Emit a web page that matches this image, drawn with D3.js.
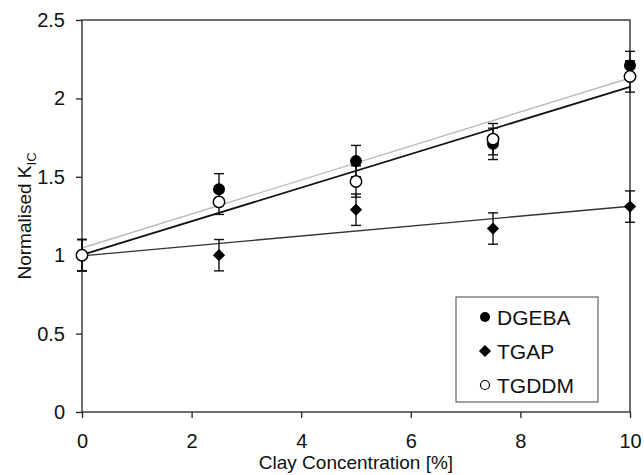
<!DOCTYPE html>
<html>
<head>
<meta charset="utf-8">
<script src="https://cdn.jsdelivr.net/npm/d3@7"></script>
<style>
  body { margin: 0; background: #fff; }
  svg { display: block; font-family: "Liberation Sans", Arial, sans-serif; }
</style>
</head>
<body>
<div id="chart"></div>
<script>
const clay = [0, 2.5, 5, 7.5, 10]
const dgeba = [1.0, 1.42, 1.60, 1.71, 2.21]
const dgebaErr = [0.1, 0.1, 0.1, 0.1, 0.09]
const tgap = [1.0, 1.0, 1.29, 1.17, 1.31]
const tgapErr = [0.1, 0.1, 0.1, 0.1, 0.1]
const tgddm = [1.0, 1.34, 1.47, 1.74, 2.14]
const tgddmErr = [0.1, 0.08, 0.1, 0.1, 0.1]
const xTicks = [0, 2, 4, 6, 8, 10]
const yTicks = [0, 0.5, 1, 1.5, 2, 2.5]

const width = 644,
      height = 475,
      margin = {top: 20, right: 14, bottom: 63, left: 82}

const x = d3.scaleLinear()
    .domain([0, 10])
    .range([margin.left, width - margin.right])

const y = d3.scaleLinear()
    .domain([0, 2.5])
    .range([height - margin.bottom, margin.top])

const svg = d3.select('#chart')
  .append("svg")
  .attr("width", width)
  .attr("height", height)

// plot frame
svg.append("rect")
  .attr("x", x(0)).attr("y", y(2.5))
  .attr("width", x(10) - x(0)).attr("height", y(0) - y(2.5))
  .attr("fill", "none").attr("stroke", "#222").attr("stroke-width", 1.3)

const xAxis = g => g
    .attr("transform", `translate(0,${y(0)})`)
    .call(d3.axisBottom(x).tickValues(xTicks).tickSize(6).tickPadding(16).tickFormat(d3.format("")))
    .call(g => g.select(".domain").remove())
    .call(g => g.selectAll("line").attr("stroke", "#222").attr("stroke-width", 1.3))
    .call(g => g.selectAll("text").attr("font-size", 20).attr("fill", "#111").attr("font-family", null))

const yAxis = g => g
    .attr("transform", `translate(${x(0)},0)`)
    .call(d3.axisLeft(y).tickValues(yTicks).tickSize(6).tickPadding(11).tickFormat(d3.format("")))
    .call(g => g.select(".domain").remove())
    .call(g => g.selectAll("line").attr("stroke", "#222").attr("stroke-width", 1.3))
    .call(g => g.selectAll("text").attr("font-size", 20).attr("fill", "#111").attr("font-family", null))

svg.append("g").call(xAxis)
svg.append("g").call(yAxis)

// axis titles
svg.append("text")
  .attr("x", (x(0) + x(10)) / 2).attr("y", 469)
  .attr("text-anchor", "middle").attr("font-size", 19).attr("fill", "#111")
  .text("Clay Concentration [%]")

const yl = svg.append("text")
  .attr("transform", `translate(31,${(y(0) + y(2.5)) / 2}) rotate(-90)`)
  .attr("text-anchor", "middle").attr("font-size", 19).attr("fill", "#111")
yl.append("tspan").text("Normalised K")
yl.append("tspan").attr("font-size", 13).attr("dy", 5).text("IC")

// linear fits
function fit (xs, ys) {
  const mx = d3.mean(xs), my = d3.mean(ys)
  const slope = d3.sum(xs, (v, i) => (v - mx) * (ys[i] - my)) / d3.sum(xs, v => (v - mx) ** 2)
  const b = my - slope * mx
  return [[0, b], [10, b + slope * 10]]
}

const line = d3.line()
    .x(d => x(d[0]))
    .y(d => y(d[1]))

const fits = [
  {pts: fit(clay, tgap), color: "#333", w: 1.4},
  {pts: fit(clay, dgeba), color: "#bbb", w: 1.4},
  {pts: fit(clay, tgddm), color: "#111", w: 1.8}
]

fits.forEach(f => {
  svg.append("path")
    .datum(f.pts)
    .attr("fill", "none")
    .attr("stroke", f.color)
    .attr("stroke-width", f.w)
    .attr("d", line)
})

// error bars
const series = [
  {name: "DGEBA", vals: dgeba, err: dgebaErr},
  {name: "TGAP", vals: tgap, err: tgapErr},
  {name: "TGDDM", vals: tgddm, err: tgddmErr}
]

series.forEach(s => {
  const g = svg.append("g").attr("stroke", "#111").attr("stroke-width", 1.4)
  clay.forEach((c, i) => {
    const cx = x(c), lo = y(s.vals[i] - s.err[i]), hi = y(s.vals[i] + s.err[i])
    g.append("line").attr("x1", cx).attr("x2", cx).attr("y1", lo).attr("y2", hi)
    g.append("line").attr("x1", cx - 5).attr("x2", cx + 5).attr("y1", lo).attr("y2", lo)
    g.append("line").attr("x1", cx - 5).attr("x2", cx + 5).attr("y1", hi).attr("y2", hi)
  })
})

const diamond = d3.symbol().type(d3.symbolDiamond2).size(95)

function marker (g, name, cx, cy) {
  if (name === "DGEBA") {
    g.append("circle").attr("cx", cx).attr("cy", cy).attr("r", 6).attr("fill", "#000")
  } else if (name === "TGAP") {
    g.append("path").attr("d", diamond()).attr("transform", `translate(${cx},${cy})`).attr("fill", "#000")
  } else {
    g.append("circle").attr("cx", cx).attr("cy", cy).attr("r", 5.7)
      .attr("fill", "#fff").attr("stroke", "#000").attr("stroke-width", 1.5)
  }
}

series.forEach(s => {
  const g = svg.append("g")
  clay.forEach((c, i) => marker(g, s.name, x(c), y(s.vals[i])))
})

// legend
const lg = svg.append("g")
lg.append("rect")
  .attr("x", 456).attr("y", 297).attr("width", 142).attr("height", 105)
  .attr("fill", "#fff").attr("stroke", "#444").attr("stroke-width", 1)

series.forEach((s, i) => {
  const cy = 317 + i * 34
  const mg = lg.append("g")
  marker(mg, s.name, 485, cy)
  if (s.name === "TGDDM") mg.select("circle").attr("r", 4.5).attr("stroke-width", 1.2)
  if (s.name === "DGEBA") mg.select("circle").attr("r", 5)
  lg.append("text")
    .attr("x", 497).attr("y", cy).attr("dy", "0.36em")
    .attr("font-size", 21).attr("fill", "#111")
    .text(s.name)
})
</script>
</body>
</html>
